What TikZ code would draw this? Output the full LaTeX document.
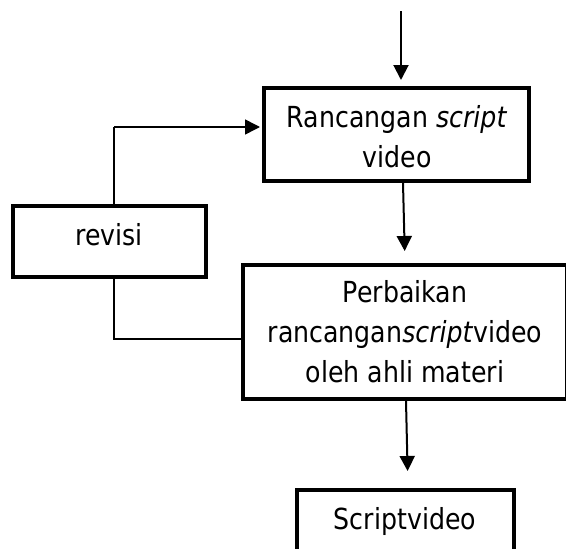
\documentclass[tikz,border=0pt]{standalone}
\usepackage{fontspec}
\setmainfont{DejaVu Sans}[FakeStretch=0.87]
\usetikzlibrary{arrows.meta}
\begin{document}
\begin{tikzpicture}[x=1pt,y=-1pt,
  boxnode/.style={draw=black,line width=3.8pt,inner sep=0pt,rectangle},
  txt/.style={inner sep=0pt,font=\fontsize{29}{40}\selectfont,align=center},
  arr/.style={line width=2pt,-{Triangle[length=15pt,width=15pt]}},
  thinline/.style={line width=1.2pt}]
\useasboundingbox (0,0) rectangle (566,549);
\clip (0,0) rectangle (566,549);
\fill[white] (0,0) rectangle (566,549);
% boxes
\node[boxnode,minimum width=265.2pt,minimum height=93.2pt] (b1) at (396.5,134.5) {};
\node[boxnode,minimum width=193.2pt,minimum height=71.2pt] (rev) at (109.5,241.5) {};
\node[boxnode,minimum width=324.2pt,minimum height=134.2pt] (b2) at (405,332) {};
\node[boxnode,minimum width=217.2pt,minimum height=88.2pt] (b3) at (405.5,534) {};
% texts
\node[txt] (t1) at (397,137) {Rancangan \textit{script}\\video};
\node[txt,anchor=base] (trev) at (109,245.5) {revisi};
\node[txt] (t2) at (405,332) {Perbaikan\\rancangan\textit{script}video\\oleh ahli materi};
\node[txt,anchor=base] (t3) at (405,529) {Scriptvideo};
% connectors
\coordinate (top) at (401,11);
\draw[arr,shorten >=6pt] (top) -- (b1.north -| top);
\draw[arr,shorten >=12pt] ([xshift=6.5pt]b1.south) -- (b2.north);
\draw[arr,shorten >=17pt] ([xshift=1pt]b2.south) -- ([xshift=2.5pt]b3.north);
\coordinate (fb1) at (114,127);
\coordinate (fb2) at (114,339);
\draw[thinline] (rev.north -| fb1) -- (fb1);
\draw[arr,line width=1.6pt,shorten >=2pt] (fb1) -- (b1.west |- fb1);
\draw[thinline] (rev.south -| fb2) -- (fb2) -- (b2.west |- fb2);
\end{tikzpicture}
\end{document}
